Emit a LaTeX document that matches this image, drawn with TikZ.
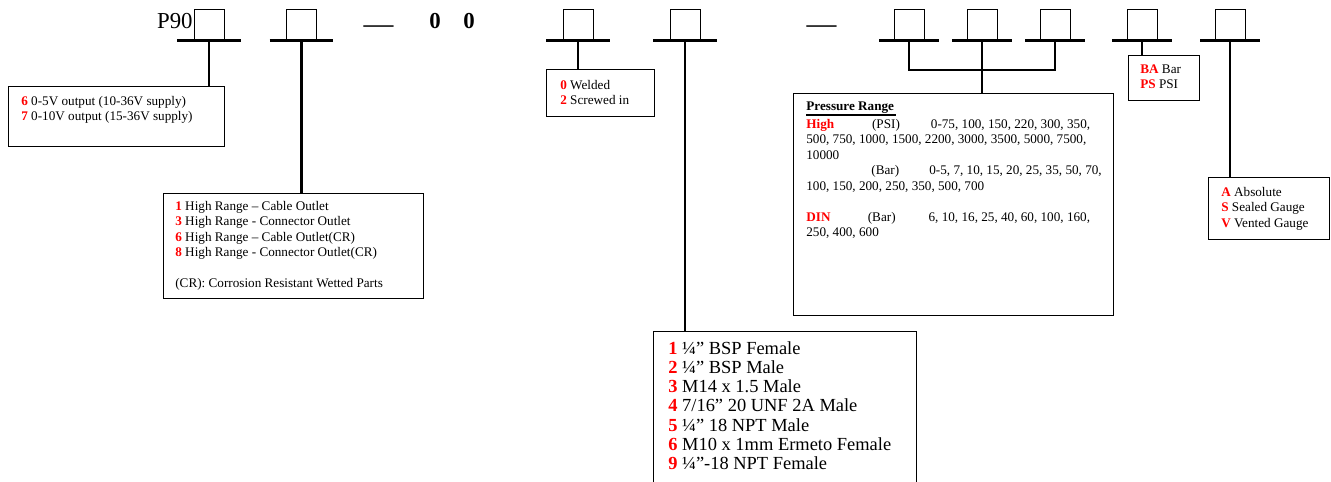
\documentclass[tikz,border=0pt]{standalone}
\usepackage{fontspec}
\setmainfont{Liberation Serif}
\usetikzlibrary{positioning}

\newcommand{\key}[1]{\textcolor{red}{\textbf{#1}}}

\tikzset{
  cell/.style={draw, line width=0.5pt, minimum width=0.6cm, minimum height=0.62cm, inner sep=0pt},
  bar/.style={line width=1.6pt},
  stem/.style={line width=1.4pt},
  optbox/.style={draw, line width=0.6pt, anchor=north west, inner sep=0pt},
  opttext/.style={anchor=north west, align=left, inner sep=0pt, font=\fontsize{7.5}{8.8}\selectfont},
  bigtext/.style={anchor=north west, align=left, inner sep=0pt, font=\fontsize{10.5}{10.95}\selectfont}
}

\begin{document}
\begin{tikzpicture}[x=0.02cm, y=-0.02cm]
  \useasboundingbox (0,0) rectangle (1331,482);

  % code head
  \node[anchor=base east, inner sep=0pt, font=\fontsize{13}{13}\selectfont] (p90) at (193,29) {P90};
  \node[anchor=base, inner sep=0pt, font=\fontsize{17}{17}\selectfont] (dash1) at (378.5,33.5) {—};
  \node[anchor=base, inner sep=0pt, font=\fontsize{13}{13}\selectfont\bfseries] (zero1) at (435,29) {0};
  \node[anchor=base, inner sep=0pt, font=\fontsize{13}{13}\selectfont\bfseries] (zero2) at (469,29) {0};
  \node[anchor=base, inner sep=0pt, font=\fontsize{17}{17}\selectfont] (dash2) at (821.5,33.5) {—};

  % code cells
  \foreach \n/\x in {1/209, 2/301.5, 3/578, 4/685, 5/909, 6/982, 7/1055, 8/1142, 9/1230}
    \node[cell] (s\n) at (\x,24.5) {};
  \foreach \n/\w in {1/0.64cm, 2/0.64cm, 3/0.64cm, 4/0.64cm, 5/0.6cm, 6/0.6cm, 7/0.6cm, 8/0.6cm, 9/0.6cm}
    \draw[bar] ([xshift=-\w]s\n.south) -- ([xshift=\w]s\n.south);

  % option boxes
  \node[optbox, minimum width=4.32cm, minimum height=1.2cm] (oA) at (8,86) {};
  \node[optbox, minimum width=5.2cm, minimum height=2.1cm] (oB) at (163,193) {};
  \node[optbox, minimum width=2.16cm, minimum height=0.94cm] (oC) at (546,69) {};
  \node[optbox, minimum width=5.26cm, minimum height=3.2cm] (oD) at (653,331) {};
  \node[optbox, minimum width=6.4cm, minimum height=4.44cm] (oE) at (793,93) {};
  \node[optbox, minimum width=1.42cm, minimum height=0.9cm] (oF) at (1128,55) {};
  \node[optbox, minimum width=2.42cm, minimum height=1.24cm] (oG) at (1208,177) {};

  % texts
  \node[opttext] (tA) at (21,96) {\key{6} 0-5V output (10-36V supply)\\
    \key{7} 0-10V output (15-36V supply)};
  \node[opttext] (tB) at (175,201) {\key{1} High Range – Cable Outlet\\
    \key{3} High Range - Connector Outlet\\
    \key{6} High Range – Cable Outlet(CR)\\
    \key{8} High Range - Connector Outlet(CR)\\[8.8pt]
    (CR): Corrosion Resistant Wetted Parts};
  \node[opttext] (tC) at (560,80) {\key{0} Welded\\ \key{2} Screwed in};
  \node[bigtext] (tD) at (668,341) {\key{1} ¼” BSP Female\\
    \key{2} ¼” BSP Male\\
    \key{3} M14 x 1.5 Male\\
    \key{4} 7/16” 20 UNF 2A Male\\
    \key{5} ¼” 18 NPT Male\\
    \key{6} M10 x 1mm Ermeto Female\\
    \key{9} ¼”-18 NPT Female};
  \node[opttext, font=\fontsize{7.5}{8.8}\selectfont\bfseries] (pr) at (806,102) {Pressure Range};
  \draw[line width=1.2pt] ([yshift=-2.3pt]pr.base west) -- ([yshift=-2.3pt,xshift=1pt]pr.base east);
  \node[opttext] (tE) at (806,119) {\makebox[37.4pt][l]{\key{High}}\makebox[33.5pt][l]{(PSI)}0-75, 100, 150, 220, 300, 350,\\
    500, 750, 1000, 1500, 2200, 3000, 3500, 5000, 7500,\\
    10000\\
    \makebox[37pt][l]{}\makebox[33pt][l]{(Bar)}0-5, 7, 10, 15, 20, 25, 35, 50, 70,\\
    100, 150, 200, 250, 350, 500, 700\\[8.8pt]
    \makebox[35pt][l]{\key{DIN}}\makebox[34.6pt][l]{(Bar)}6, 10, 16, 25, 40, 60, 100, 160,\\
    250, 400, 600};
  \node[opttext] (tF) at (1140,64) {\key{BA} Bar\\ \key{PS} PSI};
  \node[opttext] (tG) at (1221,187) {\key{A} Absolute\\ \key{S} Sealed Gauge\\ \key{V} Vented Gauge};

  % connectors
  \draw[stem] (s1.south) -- (s1.south |- oA.north);
  \draw[stem] (s2.south) -- (s2.south |- oB.north);
  \draw[stem] (s3.south) -- (s3.south |- oC.north);
  \draw[stem] (s4.south) -- (s4.south |- oD.north);
  \coordinate (fork) at (982,70);
  \draw[stem] (s5.south) |- (fork) -| (s7.south);
  \draw[stem] (s6.south) -- (s6.south |- oE.north);
  \draw[stem] (s8.south) -- (s8.south |- oF.north);
  \draw[stem] (s9.south) -- (s9.south |- oG.north);
\end{tikzpicture}
\end{document}
